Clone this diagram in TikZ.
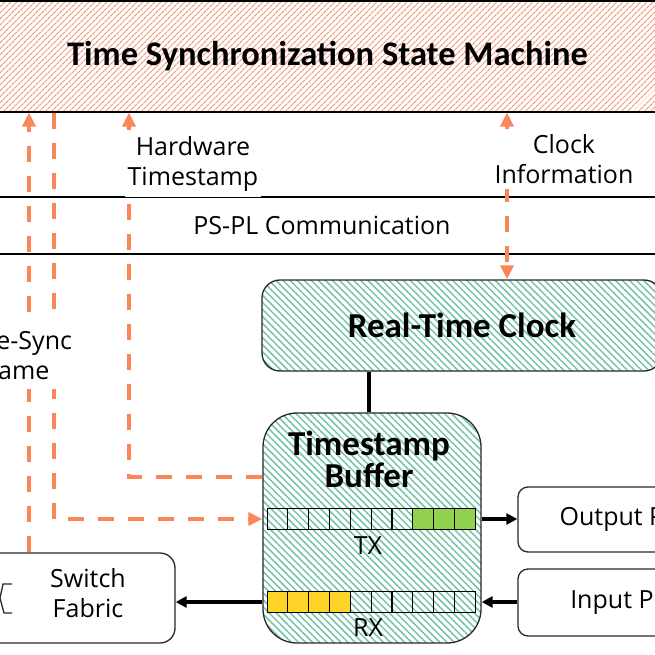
\documentclass[tikz,border=0pt]{standalone}
\usepackage{fontspec}
\setmainfont{Carlito}
\newfontfamily\uifont{Open Sans}
\usetikzlibrary{positioning, arrows.meta, calc, patterns.meta}
\definecolor{syncorange}{RGB}{250, 135, 90}
\definecolor{hatchorange}{RGB}{242, 145, 115}
\definecolor{hatchgreen}{RGB}{118, 196, 168}
\definecolor{txgreen}{RGB}{146, 208, 80}
\definecolor{rxyellow}{RGB}{255, 212, 40}
\definecolor{edgegray}{RGB}{40, 40, 40}
\tikzset{
  fsmbox/.style={draw=black, line width=1.3pt, inner sep=0pt,
                 pattern={Lines[angle=45, distance=4pt, line width=1.1pt]},
                 pattern color=hatchorange,
                 font=\bfseries\fontsize{34.5}{38}\selectfont},
  hwbox/.style={rounded corners=#1, draw=edgegray, line width=1.3pt, inner sep=0pt,
                pattern={Lines[angle=-45, distance=5pt, line width=1.5pt]},
                pattern color=hatchgreen},
  ttl/.style={font=\bfseries\fontsize{35}{32}\selectfont, align=center, inner sep=0pt},
  portbox/.style={rounded corners=10pt, draw=edgegray, line width=1.3pt, fill=white,
                  align=center, inner sep=0pt, font=\uifont\fontsize{25}{30}\selectfont},
  cell/.style={draw=black, line width=1pt, inner sep=0pt,
               minimum width=20.8pt, minimum height=21pt},
  lbl/.style={font=\uifont\fontsize{25}{30}\selectfont, align=center},
  cover/.style={lbl, fill=white},
  sync/.style={draw=syncorange, line width=3.8pt, dash pattern=on 16pt off 14pt},
  stip/.style={-{Triangle[length=14pt, width=13pt]}},
  arr/.style={-{Triangle[length=11pt, width=11pt]}, line width=3.4pt},
}

\begin{document}
\begin{tikzpicture}[x=1pt, y=-1pt]
  \useasboundingbox (0,0) rectangle (655,655);
  \fill[white] (0,0) rectangle (655,655);
  \clip (0,0) rectangle (655,655);
  % PS side
  \node[fsmbox, minimum width=680pt, minimum height=111pt] (fsm) at (327.5,56.5)
    {Time Synchronization State Machine};
  % lanes
  \draw[line width=1.3pt] (-10,197) -- (665,197);
  \draw[line width=1.3pt] (-10,254) -- (665,254);
  \node[lbl] (pspl) at (322,225) {PS-PL Communication};
  % PL blocks
  \node[hwbox=18pt, minimum width=400pt, minimum height=91pt] (rtc) at (462,325.5)
    {\bfseries\fontsize{35}{38}\selectfont Real-Time Clock};
  \node[hwbox=34pt, minimum width=218pt, minimum height=230pt] (buf) at (372,528) {};
  \node[ttl] (buftitle) at (369,459) {Timestamp\\Buffer};
  \foreach \i in {1,...,7}
    \node[cell] (tx\i) at ({267+20.8*(\i-0.5)},519) {};
  \foreach \i in {8,9,10}
    \node[cell, fill=txgreen] (tx\i) at ({267+20.8*(\i-0.5)},519) {};
  \foreach \i in {1,...,4}
    \node[cell, fill=rxyellow] (rx\i) at ({267+20.8*(\i-0.5)},602) {};
  \foreach \i in {5,...,10}
    \node[cell] (rx\i) at ({267+20.8*(\i-0.5)},602) {};
  \draw[line width=2.2pt] (tx6.north east) -- (tx6.south east);
  \draw[line width=2.2pt] (rx6.north east) -- (rx6.south east);
  \node[lbl] (txlbl) at (368,546) {TX};
  \node[lbl] (rxlbl) at (368,628) {RX};
  \node[portbox, minimum width=222pt, minimum height=65pt] (outp) at (629,519.5) {Output Port};
  \node[portbox, minimum width=222pt, minimum height=67pt] (inp) at (629,602.5) {Input Port};
  \node[portbox, rounded corners=15pt, minimum width=240pt, minimum height=90pt] (sw) at (55,598) {};
  \node[lbl] (swlbl) at (88,593) {Switch\\Fabric};
  \draw[edgegray, line width=1.3pt] (12,584) -- (3,584) -- (0,598) -- (4,613) -- (12,613);
  % data path
  \draw[line width=3.8pt] (buf.north -| 369,0) -- (rtc.south -| 369,0);
  \draw[arr] (buf.east |- tx10) -- (outp.west |- tx10);
  \draw[arr] (inp.west |- rx10) -- (buf.east |- rx10);
  \draw[arr] (buf.west |- rx1) -- (sw.east |- rx1);
  % sync path
  \coordinate (frmup) at (29,0);
  \coordinate (frmdn) at (54,0);
  \coordinate (hwts) at (129,477);
  \coordinate (clk) at (507,0);
  \draw[sync, stip] (sw.north -| frmup) -- (fsm.south -| frmup);
  \draw[sync, stip] (fsm.south -| frmdn) |- (buf.west |- tx1);
  \draw[sync, stip] (buf.west |- hwts) -| (fsm.south -| hwts);
  \draw[sync, {Triangle[length=14pt, width=13pt]}-{Triangle[length=14pt, width=13pt]}]
    (fsm.south -| clk) -- (rtc.north -| clk);
  \node[cover, inner xsep=3pt, inner ysep=5pt] (hwlbl) at (193,164) {Hardware\\Timestamp};
  \node[cover, inner xsep=3pt, inner ysep=5pt] (clklbl) at (564,159) {Clock\\Information};
  \node[cover, inner xsep=4pt, inner ysep=10pt] (frmlbl) at (12.5,355) {Time-Sync\\Frame};
\end{tikzpicture}
\end{document}
